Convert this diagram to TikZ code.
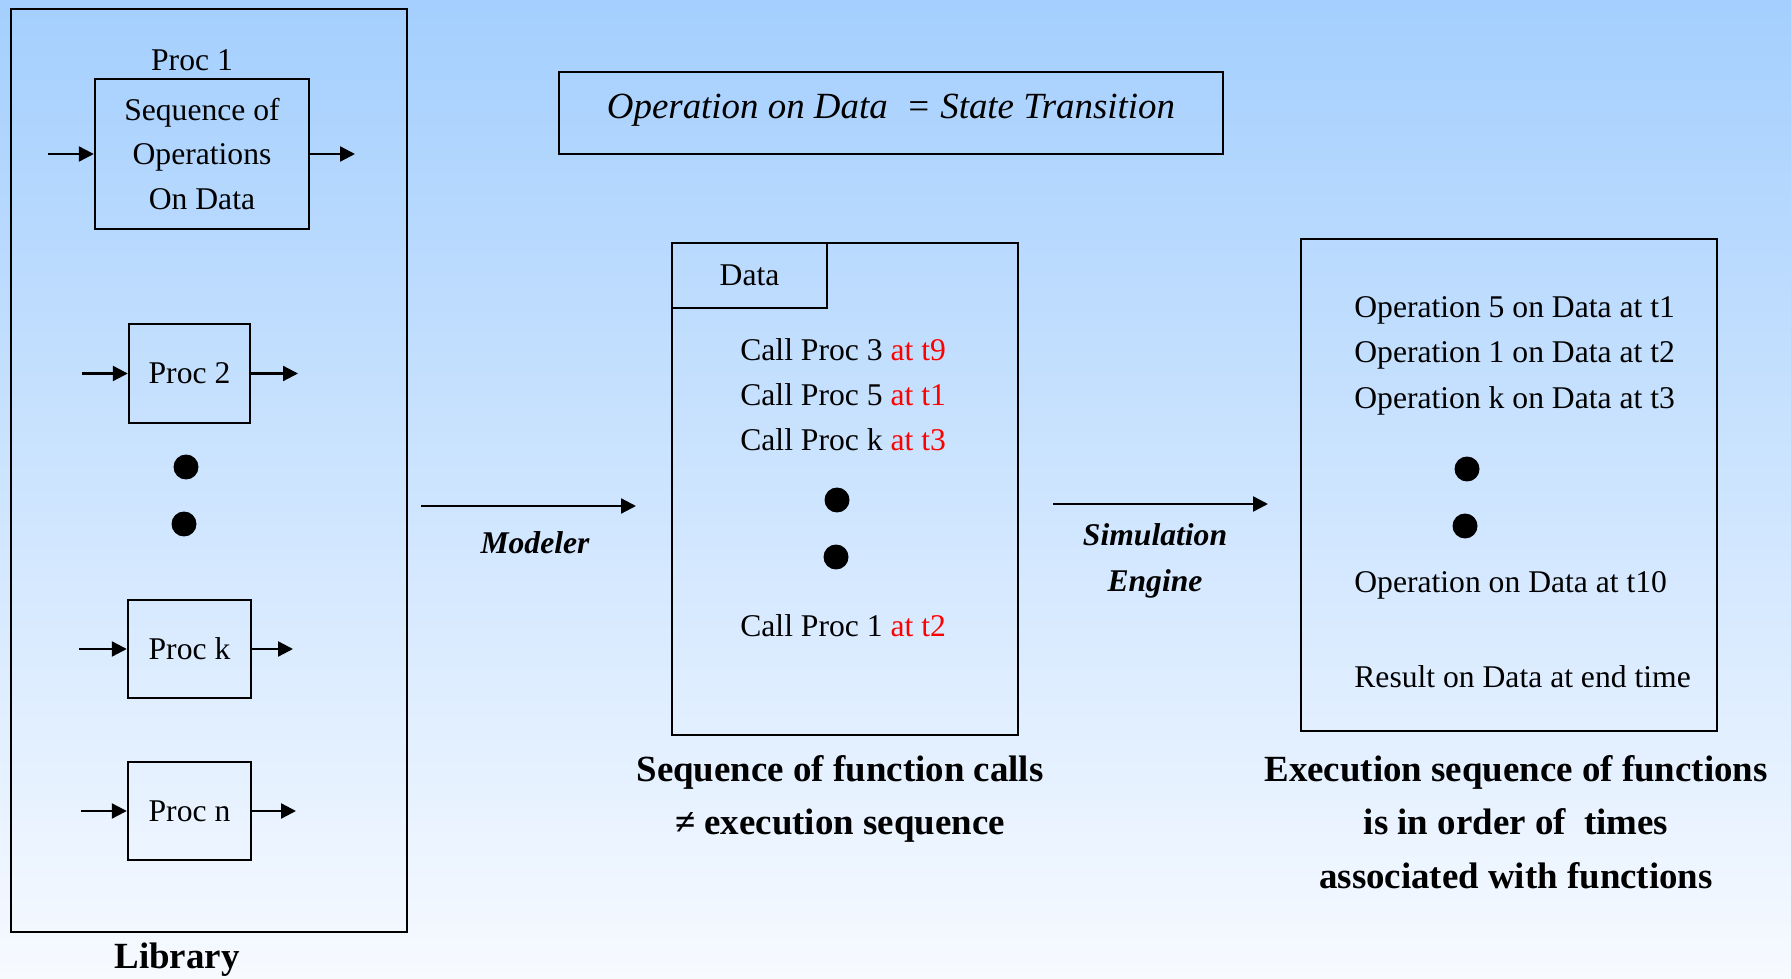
\documentclass[tikz,border=0pt]{standalone}
\usepackage{fontspec}
\setmainfont{Liberation Serif}
\usetikzlibrary{arrows.meta}
\definecolor{bgtop}{RGB}{164,207,254}
\definecolor{bgbottom}{RGB}{247,250,255}

\begin{document}
\begin{tikzpicture}[
	x=0.02cm,
	y=-0.02cm,
	box/.style={draw,line width=1.4pt,inner sep=0pt},
	txt/.style={inner sep=0pt,font=\fontsize{18}{25.5}\selectfont},
	captxt/.style={inner sep=0pt,align=center,font=\fontsize{21}{30.6}\selectfont\bfseries},
	arr/.style={-{Triangle[length=8.5pt,width=8.5pt]},line width=1.3pt},
	blob/.style={circle,fill,inner sep=0pt,minimum size=0.5cm}
	]
	\shade[top color=bgtop,bottom color=bgbottom] (0,0) rectangle (1791,979);
	\useasboundingbox (0,0) rectangle (1791,979);

	\node[box,minimum width=7.92cm,minimum height=18.46cm] (lib) at (209,470.5) {};
	\node[captxt] (libcap) at (177,960) {Library};

	\node[txt] (p1lbl) at (192,60) {Proc 1};
	\node[box,txt,align=center,minimum width=4.28cm,minimum height=3cm] (p1) at (202,154) {Sequence of\\Operations\\On Data};
	\node[box,txt,minimum width=2.42cm,minimum height=1.98cm] (p2) at (189.5,373.5) {Proc 2};
	\node[box,txt,minimum width=2.46cm,minimum height=1.96cm] (pk) at (189.5,649) {Proc k};
	\node[box,txt,minimum width=2.46cm,minimum height=1.96cm] (pn) at (189.5,811) {Proc n};
	\node[blob] (libdot1) at (186,467) {};
	\node[blob] (libdot2) at (184,524) {};

	\coordinate (p1in) at (48,154);
	\coordinate (p1out) at (355,154);
	\coordinate (p2in) at (82,373.5);
	\coordinate (p2out) at (298,373.5);
	\coordinate (pkin) at (79,649);
	\coordinate (pkout) at (293,649);
	\coordinate (pnin) at (81,811);
	\coordinate (pnout) at (296,811);
	\draw[arr] (p1in) -- (p1.west);
	\draw[arr] (p1.east) -- (p1out);
	\draw[arr] (p2in) -- (p2.west);
	\draw[arr] (p2.east) -- (p2out);
	\draw[arr] (pkin) -- (pk.west);
	\draw[arr] (pk.east) -- (pkout);
	\draw[arr] (pnin) -- (pn.west);
	\draw[arr] (pn.east) -- (pnout);

	\node[box,minimum width=13.28cm,minimum height=1.64cm] (op) at (891,113) {};
	\node[inner sep=0pt,font=\fontsize{21}{25}\selectfont\itshape] (optxt) at (891,110) {Operation on Data\hspace{0.5em}= State Transition};

	\node[box,minimum width=6.92cm,minimum height=9.84cm] (data) at (845,489) {};
	\node[box,txt,anchor=north west,minimum width=3.1cm,minimum height=1.3cm] (tab) at (data.north west) {Data};
	\node[txt,anchor=west] (call3) at (740,350) {Call Proc 3 \textcolor{red}{at t9}};
	\node[txt,anchor=west] (call5) at (740,395) {Call Proc 5 \textcolor{red}{at t1}};
	\node[txt,anchor=west] (callk) at (740,440) {Call Proc k \textcolor{red}{at t3}};
	\node[blob] (datadot1) at (837,500) {};
	\node[blob] (datadot2) at (836,557) {};
	\node[txt,anchor=west] (call1) at (740,626) {Call Proc 1 \textcolor{red}{at t2}};
	\node[captxt] (datacap) at (840,799) {Sequence of function calls\\≠ execution sequence};

	\node[box,minimum width=8.32cm,minimum height=9.84cm] (exec) at (1509,485) {};
	\node[txt,anchor=west] (op5) at (1354,310) {Operation 5 on Data at t1};
	\node[txt,anchor=west] (op1) at (1354,355) {Operation 1 on Data at t2};
	\node[txt,anchor=west] (opk) at (1354,401) {Operation k on Data at t3};
	\node[blob] (execdot1) at (1467,469) {};
	\node[blob] (execdot2) at (1465,526) {};
	\node[txt,anchor=west] (op10) at (1354,585) {Operation on Data at t10};
	\node[txt,anchor=west] (result) at (1354,677) {Result on Data at end time};
	\node[captxt] (execcap) at (1516,822) {Execution sequence of functions\\is in order of\ \ times\\associated with functions};

	\coordinate (modA) at (421,506);
	\coordinate (modB) at (636,506);
	\coordinate (simA) at (1053,504);
	\coordinate (simB) at (1268,504);
	\draw[arr] (modA) -- (modB);
	\draw[arr] (simA) -- (simB);
	\node[inner sep=0pt,font=\fontsize{18}{25}\selectfont\bfseries\itshape] (modlbl) at (535,543) {Modeler};
	\node[inner sep=0pt,align=center,font=\fontsize{18}{26}\selectfont\bfseries\itshape] (simlbl) at (1155,561) {Simulation\\Engine};
\end{tikzpicture}
\end{document}
